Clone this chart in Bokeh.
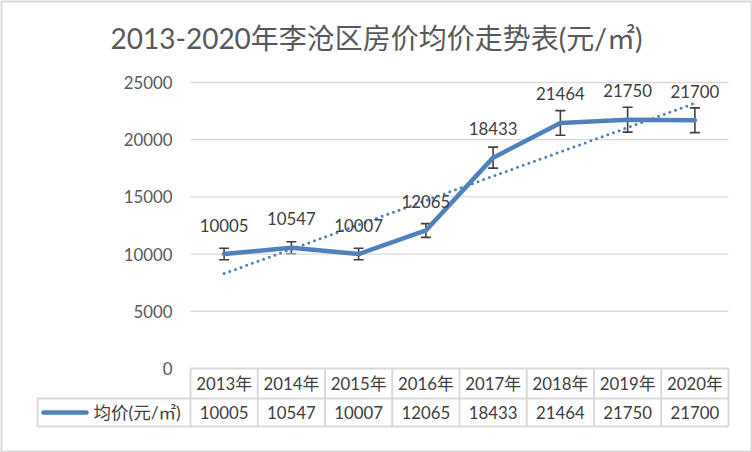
import numpy as np
from bokeh.plotting import figure
from bokeh.models import ColumnDataSource, Whisker, TeeHead, FixedTicker, Range1d, LinearAxis
from bokeh.core.properties import value
from bokeh.embed import file_html
from bokeh.resources import INLINE

# ---------------- data ----------------
years = ["2013年", "2014年", "2015年", "2016年", "2017年", "2018年", "2019年", "2020年"]
prices = [10005, 10547, 10007, 12065, 18433, 21464, 21750, 21700]
y_ticks = [0, 5000, 10000, 15000, 20000, 25000]
title_text = "2013-2020年李沧区房价均价走势表(元/㎡)"
series_name = "均价(元/㎡)"
error_pct = 0.05

# ---------------- geometry / style ----------------
W, H = 752, 452
FL, FR, FT, FB = 1, 751, 1, 451          # frame in canvas pixels
COL_LEFT, COL_W = 190.0, 67.25           # table / category columns
Y0_PX, PX_PER_UNIT = 368.0, 57.2 / 5000  # y=0 pixel, pixels per unit
ROW1_PX, ROW2_PX = 398.0, 426.0          # table row bottoms
LEG_LEFT_PX = 37.0

FONT = value("Lato, Noto Sans CJK SC")
FS = "16.8px"
BLUE = "#4F81BD"
GRID = "#D9D9D9"
TXT = "#404040"


def px_x(px):
    return 0.5 + (px - COL_LEFT) / COL_W


def px_y(py):
    return (Y0_PX - py) / PX_PER_UNIT


p = figure(width=W, height=H, output_backend="svg", toolbar_location=None,
           x_axis_location=None, y_axis_location=None,
           x_range=Range1d(px_x(FL), px_x(FR)), y_range=Range1d(px_y(FB), px_y(FT)),
           min_border_left=FL, min_border_right=W - FR, min_border_top=FT,
           min_border_bottom=H - FB)
p.grid.visible = False
p.background_fill_color = "white"
p.border_fill_color = "white"
p.outline_line_color = GRID
p.outline_line_width = 2

n = len(prices)
xs = list(range(1, n + 1))

# y axis (labels pushed into the frame)
yaxis = LinearAxis(ticker=FixedTicker(ticks=y_ticks))
yaxis.axis_line_color = None
yaxis.major_tick_line_color = None
yaxis.minor_tick_line_color = None
yaxis.major_label_text_font = "Lato"
yaxis.major_label_text_font_size = FS
yaxis.major_label_text_color = "#595959"
yaxis.major_label_standoff = -int(178 - FL)
p.add_layout(yaxis, "left")

# gridlines
gl = [t for t in y_ticks if t > 0]
p.segment(x0=[0.5] * len(gl), x1=[n + 0.5] * len(gl), y0=gl, y1=gl,
          line_color=GRID, line_width=1.3)

# trendline (linear regression of the series)
coef = np.polyfit(xs, prices, 1)
p.line(x=[1, n], y=[coef[1] + coef[0] * 1, coef[1] + coef[0] * n],
       line_color=BLUE, line_width=3, line_dash="0 6", line_cap="round")

# main line
src = ColumnDataSource(dict(x=xs, y=prices,
                            upper=[v * (1 + error_pct) for v in prices],
                            lower=[v * (1 - error_pct) for v in prices],
                            lab=[str(v) for v in prices]))
p.line("x", "y", source=src, line_color=BLUE, line_width=4.5, line_join="round", line_cap="round")

# error bars
wh = Whisker(base="x", upper="upper", lower="lower", source=src,
             line_color=TXT, line_width=1.6,
             upper_head=TeeHead(size=10, line_color=TXT, line_width=1.6),
             lower_head=TeeHead(size=10, line_color=TXT, line_width=1.6))
p.add_layout(wh)

# data labels
p.text("x", "y", text="lab", source=src, y_offset=-29, text_align="center",
       text_baseline="middle", text_font=FONT, text_font_size=FS, text_color=TXT)

# title
p.text(x=[px_x(376)], y=[px_y(37)], text=[title_text], text_align="center",
       text_baseline="middle", text_font=FONT, text_font_size="28px", text_color="#595959")

# ---------------- data table ----------------
r1 = px_y(ROW1_PX)
r2 = px_y(ROW2_PX)
xl = px_x(LEG_LEFT_PX)
hx0 = [0.5, xl, xl]
hx1 = [n + 0.5] * 3
hy = [0, r1, r2]
p.segment(x0=hx0, x1=hx1, y0=hy, y1=hy, line_color=GRID, line_width=2)
vx = [k + 0.5 for k in range(n + 1)]
p.segment(x0=vx, x1=vx, y0=[0] * len(vx), y1=[r2] * len(vx), line_color=GRID, line_width=2)
p.segment(x0=[xl], x1=[xl], y0=[r1], y1=[r2], line_color=GRID, line_width=2)

p.text(x=xs, y=[r1 / 2] * n, text=years, text_align="center", text_baseline="middle",
       text_font=FONT, text_font_size=FS, text_color=TXT)
p.text(x=xs, y=[(r1 + r2) / 2] * n, text=[str(v) for v in prices], text_align="center",
       text_baseline="middle", text_font=FONT, text_font_size=FS, text_color=TXT)

# legend key in table
ym = (r1 + r2) / 2
p.line(x=[px_x(43), px_x(86)], y=[ym, ym], line_color=BLUE, line_width=4.5, line_cap="round")
p.text(x=[px_x(93)], y=[ym], text=[series_name], text_align="left", text_baseline="middle",
       text_font=FONT, text_font_size="17.5px", text_color=TXT)

open("out.html", "w").write(file_html(p, INLINE))
